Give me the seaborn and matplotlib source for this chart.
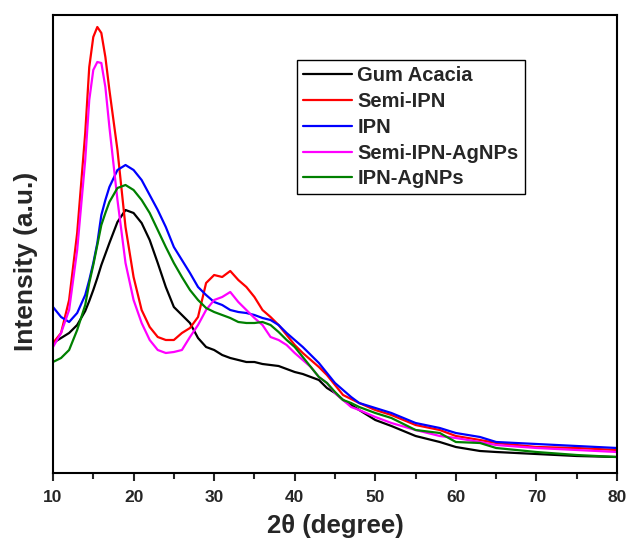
import matplotlib
matplotlib.use("Agg")
import matplotlib.pyplot as plt
import seaborn as sns
import pandas as pd
from matplotlib.ticker import MultipleLocator

# 2theta positions (degree) where the curves were read
two_theta = [10, 11, 12, 13, 14, 14.5, 15, 15.5, 16, 16.5, 17, 18, 19, 20, 21, 22, 23,
             24, 25, 26, 27, 28, 29, 30, 31, 32, 33, 34, 35, 36, 37, 38, 39, 40, 41,
             42, 43, 44, 45, 46, 47, 48, 50, 52, 55, 58, 60, 63, 65, 70, 75, 80]

# intensities (a.u.)
gum_acacia = [130, 135, 140, 148, 162, 172, 183, 195, 208, 219, 230, 251, 263, 260, 250,
              233, 210, 186, 166, 158, 150, 135, 126, 123, 118, 115, 113, 111, 111, 109,
              108, 107, 104, 101, 99, 96, 93, 85, 80, 73, 68, 63, 53, 47, 37, 31, 26, 22,
              21, 19, 17, 16]
semi_ipn = [130, 140, 173, 240, 340, 406, 436, 446, 440, 416, 383, 323, 246, 196, 163,
            146, 136, 133, 133, 140, 145, 156, 190, 198, 196, 202, 193, 186, 176, 163,
            156, 148, 138, 128, 120, 113, 106, 98, 88, 78, 74, 70, 63, 58, 48, 43, 37,
            33, 30, 26, 25, 23]
ipn = [166, 156, 151, 160, 178, 193, 210, 230, 258, 273, 286, 303, 308, 303, 293, 278,
       263, 246, 226, 213, 200, 186, 178, 171, 168, 163, 161, 160, 158, 155, 153, 148,
       140, 133, 126, 118, 110, 100, 90, 83, 76, 70, 65, 60, 50, 45, 40, 36, 31, 29, 27,
       25]
semi_ipn_ag = [126, 140, 163, 223, 313, 373, 403, 411, 410, 386, 346, 273, 210, 173, 150,
               133, 123, 120, 121, 123, 136, 148, 163, 173, 176, 181, 171, 163, 155, 148,
               136, 133, 128, 120, 113, 106, 96, 90, 80, 73, 66, 63, 56, 50, 43, 37, 35,
               31, 28, 25, 23, 21]
ipn_ag = [111, 115, 123, 143, 168, 190, 208, 228, 248, 260, 271, 285, 288, 283, 273, 260,
          243, 226, 210, 196, 183, 173, 165, 161, 158, 155, 151, 150, 150, 151, 148, 141,
          133, 126, 116, 106, 96, 90, 81, 73, 70, 66, 60, 55, 43, 40, 31, 30, 25, 21, 18,
          16]

labels = ["Gum Acacia", "Semi-IPN", "IPN", "Semi-IPN-AgNPs", "IPN-AgNPs"]
colors = ["black", "#ff0000", "#0000ff", "#ff00ff", "#008000"]

series = [gum_acacia, semi_ipn, ipn, semi_ipn_ag, ipn_ag]
frames = []
for name, vals in zip(labels, series):
    frames.append(pd.DataFrame({"two_theta": two_theta, "intensity": vals, "sample": name}))
df = pd.concat(frames, ignore_index=True)

sns.set_style("ticks")
plt.rcParams["font.family"] = ["Liberation Sans", "DejaVu Sans"]
plt.rcParams["font.weight"] = "bold"

fig = plt.figure(figsize=(6.27, 5.39), dpi=100)
ax = fig.add_axes([53 / 627, 1 - 473 / 539, 564 / 627, 458 / 539])

sns.lineplot(data=df, x="two_theta", y="intensity", hue="sample", hue_order=labels,
             palette=colors, linewidth=1.6, estimator=None, sort=False, ax=ax)

ax.set_xlim(10, 80)
ax.set_ylim(0, 458)
ax.xaxis.set_major_locator(MultipleLocator(10))
ax.xaxis.set_minor_locator(MultipleLocator(5))
ax.set_yticks([])
ax.tick_params(axis="x", which="major", direction="out", length=6, width=1.5,
               labelsize=12.5, pad=6)
ax.tick_params(axis="x", which="minor", direction="out", length=4, width=1.5)
for lbl in ax.get_xticklabels():
    lbl.set_fontweight("bold")
for sp in ax.spines.values():
    sp.set_visible(True)
    sp.set_linewidth(1.5)
    sp.set_color("black")

ax.set_xlabel("2θ (degree)", fontsize=18.5, fontweight="bold", labelpad=6.5)
ax.set_ylabel("Intensity (a.u.)", fontsize=19, fontweight="bold")
ax.yaxis.set_label_coords(-15 / 564, (473 - 261) / 458)

leg = ax.legend(loc="upper left", bbox_to_anchor=((297 - 53) / 564, (473 - 60) / 458),
                borderaxespad=0, frameon=True, fancybox=False, framealpha=1,
                edgecolor="black", prop={"size": 14.5, "weight": "bold"},
                handlelength=2.45, handletextpad=0.25, labelspacing=0.34,
                borderpad=0.3)
leg.get_frame().set_linewidth(1.0)
for h in leg.get_lines():
    h.set_linewidth(1.6)

fig.savefig("out.png", dpi=100)
